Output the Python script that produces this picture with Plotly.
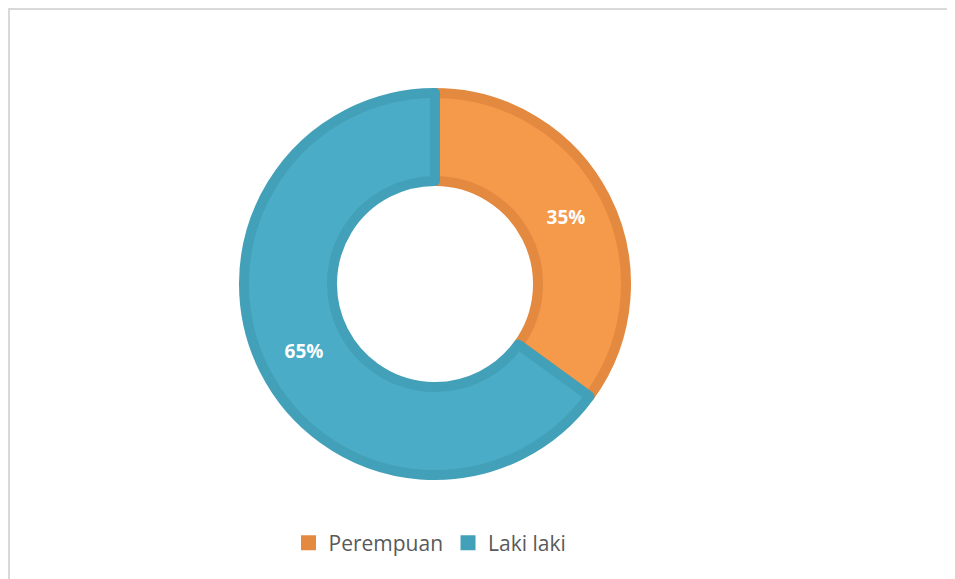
import plotly.graph_objects as go

categories = ["Perempuan", "Laki laki"]
values = [35, 65]
fill_colors = ["#F5994A", "#4AACC6"]
edge_colors = ["#E38A40", "#43A0B9"]

W, H = 955, 579
cx, cy = 427, 276
r_out = 191  # stroke of 10px extends to ~196
hole_r = 103

fig = go.Figure()
fig.add_trace(go.Pie(
    labels=categories,
    values=values,
    sort=False,
    direction="clockwise",
    rotation=0,
    hole=hole_r / r_out,
    marker=dict(colors=fill_colors, line=dict(color=edge_colors, width=10)),
    textinfo="percent",
    textposition="inside",
    insidetextorientation="horizontal",
    textfont=dict(family="Open Sans", size=19, color="white", weight="bold"),
    domain=dict(x=[(cx - r_out) / W, (cx + r_out) / W],
                y=[1 - (cy + r_out) / H, 1 - (cy - r_out) / H]),
    hoverinfo="label+percent",
    showlegend=False,
))

# legend entries with solid square swatches
for name, col in zip(categories, edge_colors):
    fig.add_trace(go.Scatter(
        x=[None], y=[None], mode="markers", name=name,
        marker=dict(symbol="square", size=15, color=col),
        showlegend=True, hoverinfo="skip",
    ))

fig.update_layout(
    width=W, height=H,
    margin=dict(l=0, r=0, t=0, b=0),
    paper_bgcolor="white",
    plot_bgcolor="white",
    xaxis=dict(visible=False),
    yaxis=dict(visible=False),
    legend=dict(orientation="h", x=422 / W, xanchor="center", y=1 - 535 / H, yanchor="middle",
                font=dict(family="Open Sans", size=21, color="#595959"),
                itemwidth=30, traceorder="normal", bgcolor="rgba(0,0,0,0)"),
    shapes=[
        dict(type="line", xref="paper", yref="paper", x0=0, x1=1, y0=1 - 1 / H, y1=1 - 1 / H,
             line=dict(color="#D9D9D9", width=2)),
        dict(type="line", xref="paper", yref="paper", x0=1 / W, x1=1 / W, y0=0, y1=1,
             line=dict(color="#D9D9D9", width=2)),
    ],
)

fig.write_html("out.html")
